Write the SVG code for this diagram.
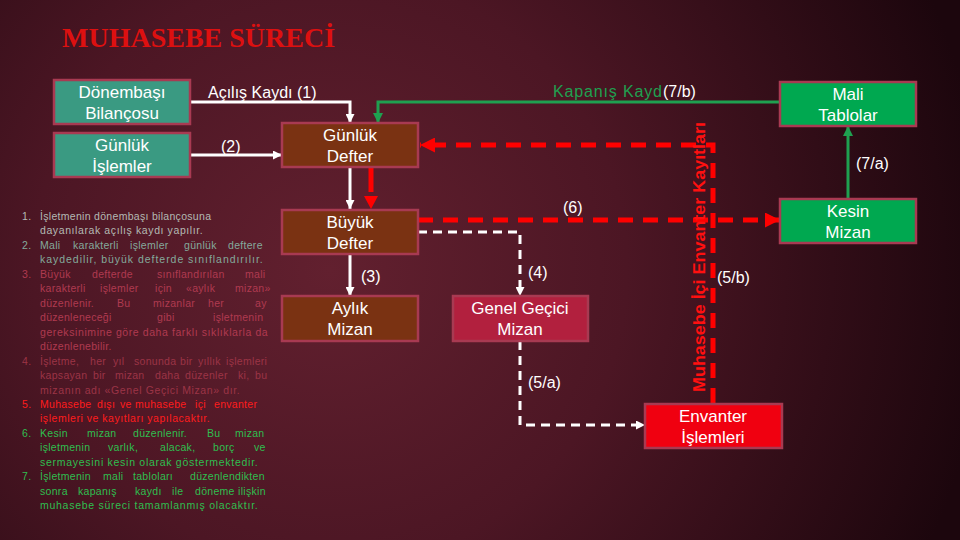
<svg xmlns="http://www.w3.org/2000/svg" width="960" height="540" viewBox="0 0 960 540">
<defs>
<radialGradient id="bg" gradientUnits="userSpaceOnUse" cx="330" cy="270" r="660">
<stop offset="0" stop-color="#62202f"/>
<stop offset="0.45" stop-color="#4c1624"/>
<stop offset="1" stop-color="#1c060d"/>
</radialGradient>
<marker id="aw" viewBox="0 0 10 10" refX="10" refY="5" markerWidth="9" markerHeight="9" markerUnits="userSpaceOnUse" orient="auto"><path d="M0,0 L10,5 L0,10 z" fill="#ffffff"/></marker>
<marker id="ar" viewBox="0 0 10 10" refX="10" refY="5" markerWidth="15" markerHeight="15" markerUnits="userSpaceOnUse" orient="auto"><path d="M0,0 L10,5 L0,10 z" fill="#ff0000"/></marker>
<marker id="ag" viewBox="0 0 10 10" refX="10" refY="5" markerWidth="10" markerHeight="10" markerUnits="userSpaceOnUse" orient="auto"><path d="M0,0 L10,5 L0,10 z" fill="#1fa050"/></marker>
<style>
.box{stroke:#a83a52;stroke-width:2.5}
.teal{fill:#3a9a82}
.brown{fill:#7a3212}
.crim{fill:#b2203e}
.red{fill:#f00010}
.green{fill:#00a850}
.nt{font-family:"Liberation Sans",Arial,sans-serif;font-size:17px;fill:#ffffff;text-anchor:middle}
.lbl{font-family:"Liberation Sans",Arial,sans-serif;font-size:16px;fill:#ffffff}
.wl{stroke:#ffffff;stroke-width:3;fill:none}
.wd{stroke:#ffffff;stroke-width:3;fill:none;stroke-dasharray:9 6}
.rd{stroke:#ff0000;stroke-width:5;fill:none;stroke-dasharray:15 10}
.gl{stroke:#1fa050;stroke-width:3;fill:none}
.lst{font-family:"Liberation Sans",Arial,sans-serif;font-size:10.5px;letter-spacing:0.3px}
</style>
</defs>
<rect x="0" y="0" width="960" height="540" fill="url(#bg)"/>
<text x="62" y="47" font-family="Liberation Serif,'Times New Roman',serif" font-weight="bold" font-size="28" fill="#dd1010">MUHASEBE SÜRECİ</text>

<g id="connectors">
<path class="wl" d="M190,102 H350 V123" marker-end="url(#aw)"/>
<path class="wl" d="M190,155 H282" marker-end="url(#aw)"/>
<path class="wl" d="M350,167 V209" marker-end="url(#aw)"/>
<path class="wl" d="M350,254 V296" marker-end="url(#aw)"/>
<path class="gl" d="M780,102 H378 V123" marker-end="url(#ag)"/>
<path class="gl" d="M848,199 V126" marker-end="url(#ag)"/>
<path d="M371,167 V192" stroke="#ff0000" stroke-width="5" fill="none"/>
<path d="M364,196 L378,196 L371,209 z" fill="#ff0000"/>
<path class="rd" d="M713,403 V145 H420" marker-end="url(#ar)"/>
<path class="rd" d="M418,220 H780" marker-end="url(#ar)"/>
<path class="wd" d="M418,232 H520 V296" marker-end="url(#aw)"/>
<path class="wd" d="M520,341 V425 H645" marker-end="url(#aw)"/>
<text class="lbl" x="208" y="98">Açılış Kaydı (1)</text>
<text class="lbl" x="221" y="152">(2)</text>
<text class="lbl" x="361" y="282">(3)</text>
<text class="lbl" x="528" y="278">(4)</text>
<text class="lbl" x="528" y="388">(5/a)</text>
<text class="lbl" x="563" y="213">(6)</text>
<text class="lbl" x="717" y="283">(5/b)</text>
<text class="lbl" x="856" y="169">(7/a)</text>
<text class="lbl" x="553" y="97" style="fill:#1fa050" textLength="109" lengthAdjust="spacing">Kapanış Kayd</text>
<text class="lbl" x="663" y="97">(7/b)</text>
<text transform="translate(705,392) rotate(-90)" font-family="Liberation Sans,Arial,sans-serif" font-weight="bold" font-size="16" fill="#ff1010" textLength="270" lengthAdjust="spacingAndGlyphs">Muhasebe İçi Envanter Kayıtları</text>
</g>

<g id="donembasi"><rect class="box teal" x="54" y="80" width="136" height="44"/><text class="nt" x="122" y="98">Dönembaşı</text><text class="nt" x="122" y="119">Bilançosu</text></g>
<g id="gunluk-islemler"><rect class="box teal" x="54" y="133" width="136" height="44"/><text class="nt" x="122" y="151">Günlük</text><text class="nt" x="122" y="172">İşlemler</text></g>
<g id="gunluk-defter"><rect class="box brown" x="282" y="123" width="136" height="44"/><text class="nt" x="350" y="141">Günlük</text><text class="nt" x="350" y="162">Defter</text></g>
<g id="buyuk-defter"><rect class="box brown" x="282" y="210" width="136" height="44"/><text class="nt" x="350" y="228">Büyük</text><text class="nt" x="350" y="249">Defter</text></g>
<g id="aylik-mizan"><rect class="box brown" x="282" y="296" width="136" height="45"/><text class="nt" x="350" y="314">Aylık</text><text class="nt" x="350" y="335">Mizan</text></g>
<g id="genel-gecici-mizan"><rect class="box crim" x="453" y="296" width="135" height="45"/><text class="nt" x="520" y="314">Genel Geçici</text><text class="nt" x="520" y="335">Mizan</text></g>
<g id="envanter-islemleri"><rect class="box red" x="645" y="404" width="137" height="44"/><text class="nt" x="713" y="422">Envanter</text><text class="nt" x="713" y="443">İşlemleri</text></g>
<g id="mali-tablolar"><rect class="box green" x="780" y="82" width="136" height="44"/><text class="nt" x="848" y="100">Mali</text><text class="nt" x="848" y="121">Tablolar</text></g>
<g id="kesin-mizan"><rect class="box green" x="780" y="199" width="136" height="44"/><text class="nt" x="848" y="217">Kesin</text><text class="nt" x="848" y="238">Mizan</text></g>

<g id="list" class="lst">
<g fill="#b4bab4">
<text x="22" y="220">1.</text>
<text x="40" y="220">İşletmenin dönembaşı bilançosuna</text>
<text x="40" y="234" textLength="163" lengthAdjust="spacing">dayanılarak açılış kaydı yapılır.</text>
</g>
<g fill="#84aa9c">
<text x="22" y="249">2.</text>
<text y="249"><tspan x="40">Mali</tspan><tspan x="73">karakterli</tspan><tspan x="130">işlemler</tspan><tspan x="184">günlük</tspan><tspan x="228">deftere</tspan></text>
<text x="40" y="263" textLength="223" lengthAdjust="spacing">kaydedilir, büyük defterde sınıflandırılır.</text>
</g>
<g fill="#b03a50">
<text x="22" y="278">3.</text>
<text y="278"><tspan x="40">Büyük</tspan><tspan x="92">defterde</tspan><tspan x="157">sınıflandırılan</tspan><tspan x="245">mali</tspan></text>
<text y="292"><tspan x="40">karakterli</tspan><tspan x="100">işlemler</tspan><tspan x="155">için</tspan><tspan x="186">«aylık</tspan><tspan x="235">mizan»</tspan></text>
<text y="307"><tspan x="40">düzenlenir.</tspan><tspan x="117">Bu</tspan><tspan x="153">mizanlar</tspan><tspan x="208">her</tspan><tspan x="255">ay</tspan></text>
<text y="321"><tspan x="40">düzenleneceği</tspan><tspan x="157">gibi</tspan><tspan x="213">işletmenin</tspan></text>
<text x="40" y="336" textLength="228" lengthAdjust="spacing">gereksinimine göre daha farklı sıklıklarla da</text>
<text x="40" y="350">düzenlenebilir.</text>
</g>
<g fill="#9c3446">
<text x="22" y="365">4.</text>
<text y="365"><tspan x="40">İşletme,</tspan><tspan x="90">her</tspan><tspan x="113">yıl</tspan><tspan x="134">sonunda</tspan><tspan x="180">bir</tspan><tspan x="198">yıllık</tspan><tspan x="226">işlemleri</tspan></text>
<text y="379"><tspan x="40">kapsayan</tspan><tspan x="93">bir</tspan><tspan x="115">mizan</tspan><tspan x="155">daha</tspan><tspan x="185">düzenler</tspan><tspan x="238">ki,</tspan><tspan x="255">bu</tspan></text>
<text x="40" y="394" textLength="200" lengthAdjust="spacing">mizanın adı «Genel Geçici Mizan» dır.</text>
</g>
<g fill="#ff1c1c">
<text x="22" y="408">5.</text>
<text y="408"><tspan x="40">Muhasebe</tspan><tspan x="97">dışı</tspan><tspan x="120">ve</tspan><tspan x="135">muhasebe</tspan><tspan x="195">içi</tspan><tspan x="214">envanter</tspan></text>
<text x="40" y="422" textLength="170" lengthAdjust="spacing">işlemleri ve kayıtları yapılacaktır.</text>
</g>
<g fill="#2fbf4f">
<text x="22" y="437">6.</text>
<text y="437"><tspan x="40">Kesin</tspan><tspan x="87">mizan</tspan><tspan x="133">düzenlenir.</tspan><tspan x="207">Bu</tspan><tspan x="235">mizan</tspan></text>
<text y="451"><tspan x="40">işletmenin</tspan><tspan x="108">varlık,</tspan><tspan x="160">alacak,</tspan><tspan x="213">borç</tspan><tspan x="254">ve</tspan></text>
<text x="40" y="466" textLength="218" lengthAdjust="spacing">sermayesini kesin olarak göstermektedir.</text>
<text x="22" y="480">7.</text>
<text y="480"><tspan x="40">İşletmenin</tspan><tspan x="103">mali</tspan><tspan x="133">tabloları</tspan><tspan x="190">düzenlendikten</tspan></text>
<text y="495"><tspan x="40">sonra</tspan><tspan x="78">kapanış</tspan><tspan x="135">kaydı</tspan><tspan x="172">ile</tspan><tspan x="195">döneme</tspan><tspan x="238">ilişkin</tspan></text>
<text x="40" y="509" textLength="218" lengthAdjust="spacing">muhasebe süreci tamamlanmış olacaktır.</text>
</g>
</g>
</svg>
